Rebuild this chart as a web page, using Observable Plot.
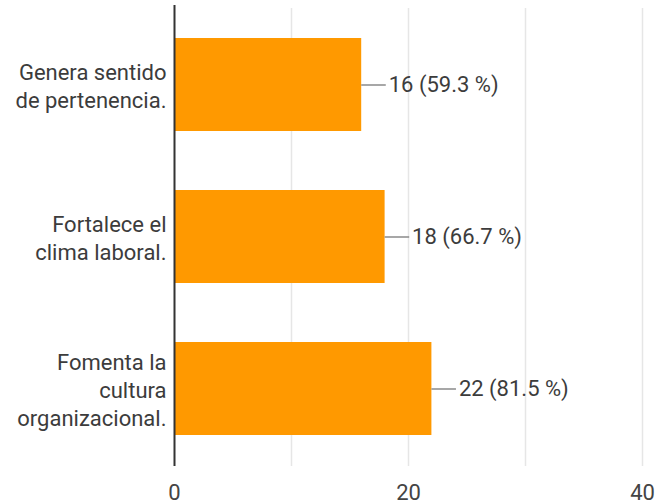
<!DOCTYPE html>
<html>
<head>
<meta charset="utf-8">
<script src="https://cdn.jsdelivr.net/npm/d3@7"></script>
<script src="https://cdn.jsdelivr.net/npm/@observablehq/plot@0.6"></script>
<style>
  html, body { margin: 0; padding: 0; background: #fff; }
  #chart svg { display: block; }
</style>
</head>
<body>
<div id="chart"></div>
<script>
const categories = ["Genera sentido\nde pertenencia.", "Fortalece el\nclima laboral.", "Fomenta la\ncultura\norganizacional."];
const counts = [16, 18, 22];
const percents = ["59.3", "66.7", "81.5"];
const gridTicks = [10, 20, 30, 40];
const axisTicks = [0, 20, 40];

const data = categories.map((c, i) => ({category: c, count: counts[i], pct: percents[i]}));

const chart = Plot.plot({
  width: 656,
  height: 504,
  marginLeft: 174,
  marginRight: 14,
  marginTop: 8,
  marginBottom: 38,
  style: {fontFamily: "Roboto, sans-serif", background: "#fff"},
  x: {domain: [0, 40], label: null},
  y: {domain: categories, paddingInner: 0.385, paddingOuter: 0.19, axis: null},
  marks: [
    Plot.gridX(gridTicks, {stroke: "#e6e6e6", strokeOpacity: 1, strokeWidth: 1.5}),
    Plot.ruleY([0], {frameAnchor: "bottom", x1: 0, x2: 40, stroke: "#e6e6e6", strokeWidth: 1.5}),
    Plot.barX(data, {y: "category", x: "count", fill: "#ff9900"}),
    Plot.ruleY(data, {y: "category", x1: d => d.count, x2: d => d.count + 2.1, stroke: "#8a8a8a", strokeWidth: 1.5}),
    Plot.text(data, {y: "category", x: "count", text: d => `${d.count} (${d.pct} %)`, textAnchor: "start", dx: 27, fontSize: 22, fill: "#3c3c3c"}),
    Plot.text(data, {y: "category", x: 0, text: "category", textAnchor: "end", dx: -8, fontSize: 22, lineHeight: 1.27, fill: "#3c3c3c"}),
    Plot.ruleX([0], {stroke: "#333", strokeWidth: 2, insetTop: -3}),
    Plot.axisX(axisTicks, {tickSize: 0, tickPadding: 18, fontSize: 22, color: "#444", anchor: "bottom", label: null})
  ]
});
document.getElementById("chart").appendChild(chart);
</script>
</body>
</html>
